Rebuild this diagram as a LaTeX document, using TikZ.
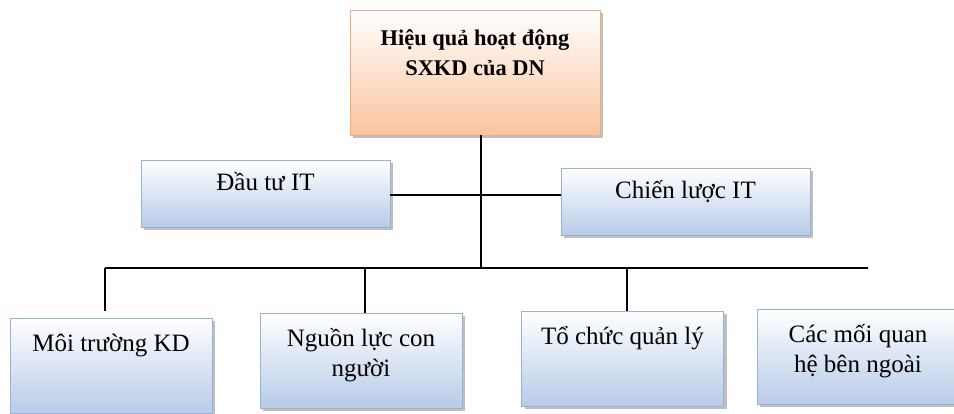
\documentclass[tikz,border=0pt]{standalone}
\usepackage{fontspec}
\setmainfont{Liberation Serif}
\usetikzlibrary{positioning,shadows}
\definecolor{boxblue}{RGB}{184,203,232}
\definecolor{edgeblue}{RGB}{149,179,215}
\definecolor{boxpeach}{RGB}{250,196,158}
\definecolor{edgepeach}{RGB}{246,172,120}
\tikzset{
goal/.style={
draw=edgepeach,
top color=white,
bottom color=boxpeach,
minimum width=125pt,
minimum height=62.5pt,
inner ysep=10pt,
text height=22.5pt,
text depth=20pt,
align=center,
font=\fontsize{11.2}{15}\selectfont\bfseries,
drop shadow={shadow xshift=1.5pt,shadow yshift=-1.5pt,fill=black!50}
},
factor/.style={
draw=edgeblue,
top color=white,
bottom color=boxblue,
minimum width=124.5pt,
minimum height=33.5pt,
inner ysep=7pt,
text height=8pt,
text depth=11.5pt,
align=center,
font=\fontsize{12.5}{15}\selectfont,
drop shadow={shadow xshift=1.5pt,shadow yshift=-1.5pt,fill=black!50}
},
leaf/.style={
factor,
minimum width=101pt,
minimum height=47.5pt,
inner ysep=8.5pt,
text depth=22.5pt
},
twoline/.style={
text height=23pt,
text depth=7.5pt
},
link/.style={
line width=0.75pt
}
}
\begin{document}
\begin{tikzpicture}[x=0.5pt,y=-0.5pt]
\useasboundingbox (0,0) rectangle (954,413);

\node[goal](top) at (475,72.5){Hiệu quả hoạt động\\SXKD của DN};
\node[factor](invest) at (265.5,193.5){Đầu tư IT};
\node[factor](strategy) at (685.5,201.5){Chiến lược IT};
\node[leaf](env) at (111,365.5){Môi trường KD};
\node[leaf,twoline](human) at (361,360.5){Nguồn lực con\\người};
\node[leaf](org) at (622.5,358.5){Tổ chức quản lý};
\node[leaf,twoline](ext) at (858,356.5){Các mối quan\\hệ bên ngoài};

\coordinate (mid) at (481,195);
\coordinate (hub) at (481,268);
\coordinate (barL) at (105,268);
\coordinate (barR) at (868,268);

\draw[link](top.south -| hub)--(hub);
\draw[link](invest.east |- mid)--(mid)--(mid -| strategy.west);
\draw[link](barL)--(barR);
\draw[link](barL)--([yshift=3.5pt]env.north -| barL);
\foreach \n/\x in {human/365,org/627}
\draw[link](\x,268)--(\n.north -| \x,268);

\end{tikzpicture}
\end{document}
